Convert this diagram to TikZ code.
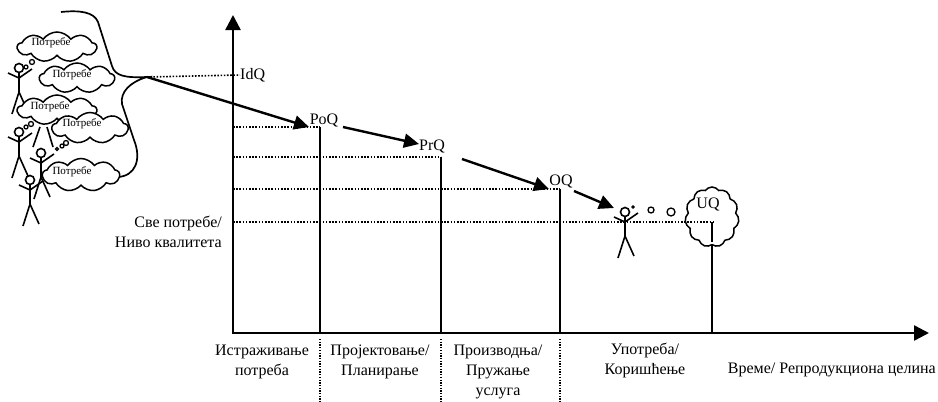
\documentclass[tikz,border=0pt]{standalone}
\usepackage{fontspec}
\setmainfont{Liberation Serif}
\usetikzlibrary{arrows.meta,shapes.symbols}
\begin{document}
\begin{tikzpicture}[x=1pt,y=-1pt,
  axis/.style={line width=2.4pt,-{Triangle[length=15pt,width=15pt]}},
  flow/.style={line width=2.4pt,-{Triangle[length=15pt,width=14pt]}},
  stem/.style={line width=2pt},
  level/.style={line width=1.6pt,dash pattern=on 1.6pt off 1.6pt},
  phasesep/.style={line width=1.3pt,dash pattern=on 1.3pt off 1.4pt},
  lbl/.style={font=\fontsize{16}{20}\selectfont,inner sep=0pt},
  phase/.style={lbl,align=center},
  thought/.style={cloud,cloud puffs=9,cloud puff arc=110,draw,line width=1.5pt,
    fill=white,inner sep=0pt},
  needs/.style={font=\fontsize{11}{12}\selectfont,inner sep=0pt},
  man/.style={line width=1.6pt},
  bubble/.style={draw,line width=1.3pt,fill=white,circle,inner sep=0pt},
  person/.pic={
    \draw[man] (0,0) circle[radius=4.5];
    \draw[man] (0,4.5) -- (0,24);
    \draw[man] (-11,5) -- (0,10) -- (13,1);
    \draw[man] (-7,46) -- (0,24) -- (9,44);
  }
]
\useasboundingbox (0,0) rectangle (938,402);

% ---------- axes ----------
\coordinate (O) at (233,333);
\coordinate (ytip) at (233,15);
\coordinate (xtip) at (929,333);
\draw[axis] (O) -- (ytip);
\draw[axis] ([xshift=-1.2pt]O) -- (xtip);

% ---------- quality labels ----------
\node[lbl,anchor=west] (IdQ) at (240,75) {IdQ};
\node[lbl] (PoQ) at (324,120) {PoQ};
\node[lbl] (PrQ) at (432,146) {PrQ};
\node[lbl] (OQ)  at (561,181) {OQ};

% level points on the y axis and on the phase borders
\coordinate (l0) at (147,77);
\coordinate (l1a) at (233,127); \coordinate (l1b) at (320,127);
\coordinate (l2a) at (233,157); \coordinate (l2b) at (441,157);
\coordinate (l3a) at (233,189); \coordinate (l3b) at (560,189);
\coordinate (l4a) at (233,222); \coordinate (l4b) at (713,222);

\draw[level] (l0) -- (IdQ.west);
\draw[level] (l1a) -- (l1b);
\draw[level] (l2a) -- (l2b);
\draw[level] (l3a) -- (l3b);
\draw[level] (l4a) -- (l4b);

% phase borders
\coordinate (b1) at (320,333); \coordinate (b2) at (441,333);
\coordinate (b3) at (560,333); \coordinate (b4) at (712,333);
\draw[stem] (l1b) -- (b1);
\draw[stem] (l2b) -- (b2);
\draw[stem] (l3b) -- (b3);
\draw[stem] ([xshift=-1pt]l4b) -- (b4);

\coordinate (s1) at (320,339); \coordinate (e1) at (320,402);
\coordinate (s2) at (441,339); \coordinate (e2) at (441,402);
\coordinate (s3) at (560,339); \coordinate (e3) at (560,402);
\draw[phasesep] (s1) -- (e1);
\draw[phasesep] (s2) -- (e2);
\draw[phasesep] (s3) -- (e3);

% ---------- quality flow ----------
\coordinate (a1) at (309,127);
\coordinate (a2s) at (343,127); \coordinate (a2) at (419,144);
\coordinate (a3s) at (462,159); \coordinate (a3) at (549,189);
\coordinate (a4s) at (574,191); \coordinate (a4) at (614,208);
\draw[flow] (l0) -- (a1);
\draw[flow] (a2s) -- (a2);
\draw[flow] (a3s) -- (a3);
\draw[flow] (a4s) -- (a4);

% ---------- phase names ----------
\node[phase] (p1) at (262,362) {Истраживање\\потреба};
\node[phase] (p2) at (380,362) {Пројектовање/\\Планирање};
\node[phase] (p3) at (498,372) {Производња/\\Пружање\\услуга};
\node[phase] (p4) at (645,360) {Употреба/\\Коришћење};
\node[lbl,anchor=east] (time) at (936,370) {Време/ Репродукциона целина};
\node[lbl,align=right,anchor=east] (all) at (222,232) {Све потребе/\\Ниво квалитета};

% ---------- user and used quality ----------
\pic at (625,212) {person};
\node[draw,fill=black,circle,inner sep=0pt,minimum size=3pt] (u0) at (633,207) {};
\node[bubble,minimum size=6pt] (u1) at (651,210) {};
\node[bubble,minimum size=8pt] (u2) at (671,212) {};
\node[thought,cloud puffs=11,aspect=0.9,minimum width=54pt,minimum height=60pt] (UQc) at (712,217) {};
\node[lbl] (UQ) at (708,204) {UQ};
\draw[level] (684,222) -- (l4b);
\draw[stem] ([xshift=-1pt]l4b) -- ++(0,20);

% ---------- funnel of needs ----------
\draw[line width=1.7pt] (61,12) .. controls (80,10) and (94,12) .. (98,22)
  -- (112,66) .. controls (115,76) and (125,78) .. (l0)
  .. controls (130,82) and (120,92) .. (122,104)
  -- (134,140) .. controls (142,160) and (135,176) .. (118,177);

% people
\pic at (19,68) {person};
\pic at (19,132) {person};
\pic at (41,153) {person};
\pic at (30,180) {person};
\draw[man] (40,127) -- (33,147);
\draw[man] (47,127) -- (53,147);

% thoughts
\node[thought,aspect=2.6,minimum width=79pt,minimum height=30pt] (c1) at (57,47) {};
\node[needs] (t1) at (51,43) {Потребе};
\node[thought,aspect=2.5,minimum width=75pt,minimum height=30pt] (c2) at (77,78) {};
\node[needs] (t2) at (72,75) {Потребе};
\node[thought,aspect=2.6,minimum width=79pt,minimum height=30pt] (c3) at (57,110) {};
\node[needs] (t3) at (50,107) {Потребе};
\node[thought,aspect=2.5,minimum width=76pt,minimum height=31pt] (c4) at (90,128) {};
\node[needs] (t4) at (82,124) {Потребе};
\node[thought,aspect=2.4,minimum width=77pt,minimum height=33pt] (c5) at (81,175) {};
\node[needs] (t5) at (72,172) {Потребе};

\node[bubble,minimum size=4pt] (d1) at (26,67) {};
\node[bubble,minimum size=5pt] (d2) at (32,62) {};
\node[bubble,minimum size=4pt] (d3) at (26,127) {};
\node[bubble,minimum size=5pt] (d4) at (31,124) {};
\node[bubble,minimum size=3pt] (d5) at (57,149) {};
\node[bubble,minimum size=4pt] (d6) at (62,146) {};
\node[bubble,minimum size=5pt] (d7) at (66,143) {};
\end{tikzpicture}
\end{document}
